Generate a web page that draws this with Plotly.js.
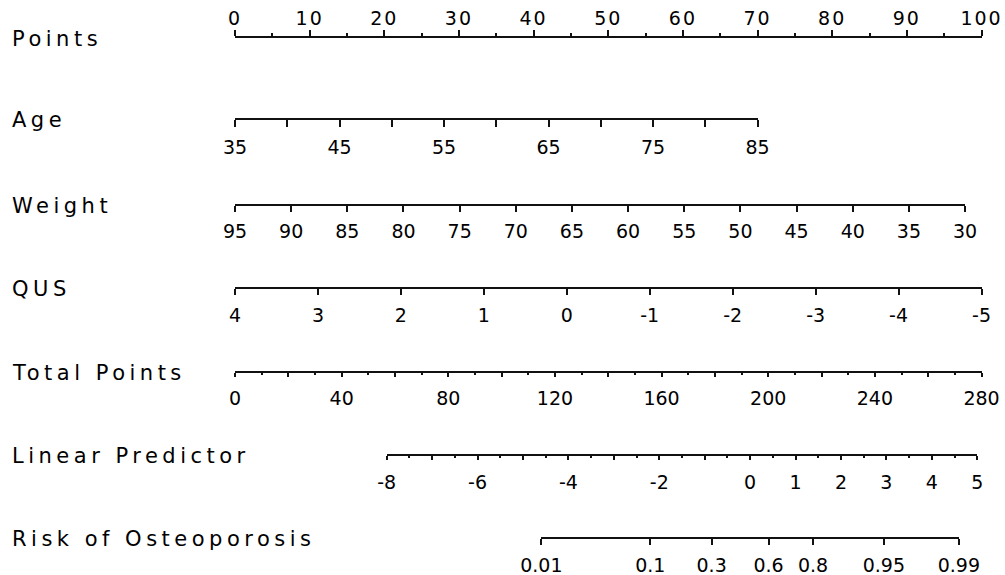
<!DOCTYPE html>
<html><head><meta charset="utf-8">
<script src="https://cdn.plot.ly/plotly-3.0.1.min.js"></script>
<style>
html,body{margin:0;padding:0;background:#fff}
#chart{width:1005px;height:575px}
.xtick text{letter-spacing:2px}
.annotation-text{letter-spacing:4.5px}
</style></head><body><div id="chart"></div><script>
// ---- data ----
const rowNames = ['Points','Age','Weight','QUS','Total Points','Linear Predictor','Risk of Osteoporosis'];

const pointsTicks = [0,10,20,30,40,50,60,70,80,90,100];
const pointsLabels = ['0','10','20','30','40','50','60','70','80','90','100'];
const pointsMinor = [5,15,25,35,45,55,65,75,85,95];

const ageTicks = [35,40,45,50,55,60,65,70,75,80,85];
const ageLabels = ['35','','45','','55','','65','','75','','85'];
const agePointsAtMax = 70;        // points given to Age = 85

const weightTicks = [95,90,85,80,75,70,65,60,55,50,45,40,35,30];
const weightLabels = ['95','90','85','80','75','70','65','60','55','50','45','40','35','30'];
const weightPointsAtMin = 97.8;   // points given to Weight = 30

const qusTicks = [4,3,2,1,0,-1,-2,-3,-4,-5];
const qusLabels = ['4','3','2','1','0','-1','-2','-3','-4','-5'];
const qusPointsAtMin = 100;       // points given to QUS = -5

const totalTicks = [0,20,40,60,80,100,120,140,160,180,200,220,240,260,280];
const totalLabels = ['0','','40','','80','','120','','160','','200','','240','','280'];
const totalMinor = [10,30,50,70,90,110,130,150,170,190,210,230,250,270];
const totalMax = 280;

const lpTicks = [-8,-7,-6,-5,-4,-3,-2,-1,0,1,2,3,4,5];
const lpLabels = ['-8','','-6','','-4','','-2','','0','1','2','3','4','5'];
const lpMinor = [-7.5,-6.5,-5.5,-4.5,-3.5,-2.5,-1.5,-0.5,0.5,1.5,2.5,3.5,4.5];
const lpRange = [-8, 5];
const totalAtLpRange = [56.9, 278.4]; // total points where LP = -8 and LP = 5

const riskProbs = [0.01,0.1,0.3,0.6,0.8,0.95,0.99];
const riskLabels = ['0.01','0.1','0.3','0.6','0.8','0.95','0.99'];

// ---- layout geometry ----
const W = 1005, H = 575;
const x0 = 235/W, x1 = 981.5/W;
const lineY = [37.5, 118, 203.5, 287, 370.5, 453.5, 536.5]; // px
const pts2p = p => x0 + p/100*(x1-x0);
const tot2p = t => x0 + t/totalMax*(x1-x0);
const lpD = [tot2p(totalAtLpRange[0]), tot2p(totalAtLpRange[1])];
const lp2p = v => lpD[0] + (v-lpRange[0])/(lpRange[1]-lpRange[0])*(lpD[1]-lpD[0]);
const logit = p => Math.log(p/(1-p));
const riskVals = riskProbs.map(logit);

const tickFont = {family:'DejaVu Sans', size:19, color:'#000'};
const layout = {
  width: W, height: H, margin:{l:0,r:0,t:0,b:0},
  paper_bgcolor:'#fff', plot_bgcolor:'rgba(0,0,0,0)',
  showlegend:false, annotations:[]
};
const data = [];

function addRow(i, domain, range, tickvals, ticktext, opts) {
  const n = i+1, sx = n===1?'':n, key = n===1?'':n;
  const py = 1 - lineY[i]/H;
  const band = 0.02;
  const side = opts.side || 'bottom';
  layout['yaxis'+key] = {
    domain: side==='top' ? [py-band, py] : [py, py+band],
    range:[0,1], visible:false, fixedrange:true, showgrid:false, zeroline:false
  };
  const ax = {
    domain: domain, range: range, anchor: 'y'+sx, side: side,
    showgrid:false, zeroline:false, showline:true, linecolor:'#111', linewidth:2,
    ticks:'outside', ticklen: opts.ticklen, tickwidth:2, tickcolor:'#111',
    tickmode:'array', tickvals: tickvals, ticktext: ticktext,
    tickfont: tickFont, ticklabelstandoff: opts.standoff || 0, fixedrange:true
  };
  if (opts.minor) {
    ax.minor = {tickmode:'array', tickvals: opts.minor, ticks:'outside',
                ticklen: opts.minorLen, tickwidth:2, tickcolor:'#111', showgrid:false};
  }
  layout['xaxis'+key] = ax;
  data.push({type:'scatter', mode:'none', x: tickvals, y: tickvals.map(()=>0),
             xaxis:'x'+sx, yaxis:'y'+sx, hoverinfo:'skip'});
  layout.annotations.push({
    xref:'paper', yref:'paper', x: 10/W, y: py, xanchor:'left', yanchor:'middle',
    yshift:-2, text: rowNames[i], showarrow:false,
    font:{family:'DejaVu Sans', size:21, color:'#000'}
  });
}

addRow(0, [pts2p(0), pts2p(100)], [0,100], pointsTicks, pointsLabels,
       {side:'top', ticklen:6, minor:pointsMinor, minorLen:3, standoff:-3});
addRow(1, [pts2p(0), pts2p(agePointsAtMax)], [35,85], ageTicks, ageLabels, {ticklen:7, standoff:4});
addRow(2, [pts2p(0), pts2p(weightPointsAtMin)], [95,30], weightTicks, weightLabels, {ticklen:6, standoff:4});
addRow(3, [pts2p(0), pts2p(qusPointsAtMin)], [4,-5], qusTicks, qusLabels, {ticklen:6, standoff:4});
addRow(4, [tot2p(0), tot2p(totalMax)], [0,totalMax], totalTicks, totalLabels,
       {ticklen:4, minor:totalMinor, minorLen:2, standoff:6});
addRow(5, lpD, lpRange, lpTicks, lpLabels, {ticklen:4, minor:lpMinor, minorLen:2, standoff:7});
addRow(6, [lp2p(riskVals[0]), lp2p(riskVals[riskVals.length-1])],
       [riskVals[0], riskVals[riskVals.length-1]], riskVals, riskLabels, {ticklen:6, standoff:5});

Plotly.newPlot('chart', data, layout, {displayModeBar:false, staticPlot:true});
</script></body></html>
